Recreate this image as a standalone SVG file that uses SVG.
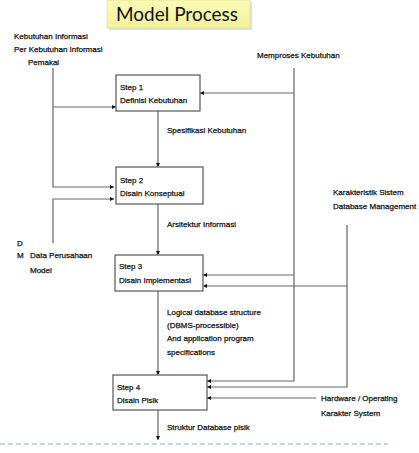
<svg xmlns="http://www.w3.org/2000/svg" width="419" height="453" viewBox="0 0 419 453">
<style>
.t{font-family:"Liberation Sans",Arial,sans-serif;font-size:8px;fill:#111;stroke:#111;stroke-width:0.25;}
.box{fill:#fff;stroke:#555;stroke-width:1.2;}
.ln{fill:none;stroke:#666;stroke-width:1.2;}
.ar{marker-end:url(#ah);}
</style>
<defs>
<marker id="ah" viewBox="0 0 6 6" refX="6" refY="3" markerWidth="4" markerHeight="4" markerUnits="userSpaceOnUse" orient="auto">
<path d="M0,0 L6,3 L0,6 z" fill="#111"/>
</marker>
<linearGradient id="yg" x1="0" y1="0" x2="0" y2="1">
<stop offset="0" stop-color="#fbfbb8"/>
<stop offset="1" stop-color="#f3f39a"/>
</linearGradient>
</defs>
<rect width="419" height="453" fill="#fff"/>

<g id="title">
<rect x="109" y="2" width="143" height="28" fill="#ccc" opacity="0.6"/>
<rect x="107" y="0" width="143" height="28" fill="url(#yg)" stroke="#e0e090" stroke-width="0.8"/>
<text x="116" y="21" style="font-family:Lato,'Open Sans',sans-serif;font-size:19px;fill:#111;">Model Process</text>
</g>

<g id="connectors">
<polyline class="ln ar" points="53,68 53,187 114,187"/>
<line class="ln ar" x1="53" y1="107" x2="116" y2="107"/>
<polyline class="ln ar" points="53,243 53,199 114,199"/>
<line class="ln ar" x1="158" y1="111" x2="158" y2="167"/>
<line class="ln ar" x1="158" y1="204" x2="158" y2="255"/>
<line class="ln ar" x1="158" y1="291" x2="158" y2="375"/>
<line class="ln ar" x1="158" y1="410" x2="158" y2="440"/>
<polyline class="ln ar" points="294,68 294,381 207,381"/>
<line class="ln ar" x1="294" y1="93" x2="200" y2="93"/>
<line class="ln ar" x1="294" y1="275" x2="203" y2="275"/>
<polyline class="ln ar" points="347,225 347,387 207,387"/>
<line class="ln ar" x1="347" y1="286" x2="203" y2="286"/>
<line class="ln ar" x1="316" y1="398" x2="207" y2="398"/>
</g>

<g id="step1">
<rect class="box" x="116" y="75" width="84" height="36"/>
<text class="t" x="120" y="90">Step 1</text>
<text class="t" x="120" y="103">Definisi Kebutuhan</text>
</g>
<g id="step2">
<rect class="box" x="116" y="167" width="87" height="37"/>
<text class="t" x="120" y="183">Step 2</text>
<text class="t" x="120" y="196">Disain Konseptual</text>
</g>
<g id="step3">
<rect class="box" x="115" y="255" width="88" height="36"/>
<text class="t" x="119" y="269">Step 3</text>
<text class="t" x="119" y="283">Disain Implementasi</text>
</g>
<g id="step4">
<rect class="box" x="113" y="375" width="94" height="35"/>
<text class="t" x="117" y="390">Step 4</text>
<text class="t" x="117" y="403">Disain Pisik</text>
</g>

<g id="labels">
<text class="t" x="14" y="39">Kebutuhan Informasi</text>
<text class="t" x="14" y="52">Per Kebutuhan Informasi</text>
<text class="t" x="28" y="65">Pemakai</text>
<text class="t" x="257" y="58">Memproses Kebutuhan</text>
<text class="t" x="167" y="133">Spesifikasi Kebutuhan</text>
<text class="t" x="167" y="227">Arsitektur Informasi</text>
<text class="t" x="333" y="195">Karakteristik Sistem</text>
<text class="t" x="333" y="209">Database Management</text>
<text class="t" x="17" y="246">D</text>
<text class="t" x="17" y="258">M</text>
<text class="t" x="30" y="258">Data Perusahaan</text>
<text class="t" x="30" y="273">Model</text>
<text class="t" x="167" y="315">Logical database structure</text>
<text class="t" x="167" y="328">(DBMS-processible)</text>
<text class="t" x="167" y="341">And application program</text>
<text class="t" x="167" y="355">specifications</text>
<text class="t" x="321" y="401">Hardware / Operating</text>
<text class="t" x="321" y="416">Karakter System</text>
<text class="t" x="167" y="430">Struktur Database pisik</text>
</g>

<line x1="0" y1="444" x2="388" y2="444" stroke="#7fb0dc" stroke-width="1" stroke-dasharray="5,3"/>
</svg>
